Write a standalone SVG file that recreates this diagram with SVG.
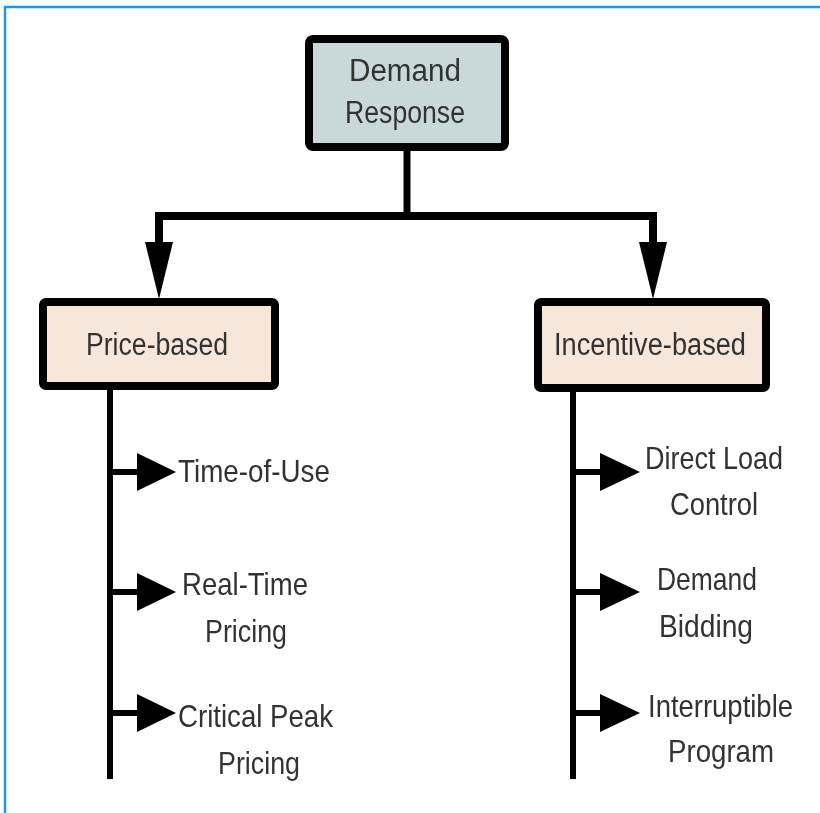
<svg xmlns="http://www.w3.org/2000/svg" width="820" height="813" viewBox="0 0 820 813">
  <style>
    .box { stroke: #000; stroke-width: 8; }
    .root { fill: #c9d9d9; }
    .cat { fill: #f6e7da; }
    .lbl { font-family: "Liberation Sans", Arial, sans-serif; font-size: 31px; fill: #333; text-anchor: middle; }
    .sub { font-family: "Liberation Sans", Arial, sans-serif; font-size: 32px; fill: #333; }
    .wire { stroke: #000; fill: none; stroke-linecap: square; }
    .head { fill: #000; }
  </style>
  <defs>
    <filter id="soft" x="-5%" y="-5%" width="110%" height="110%">
      <feGaussianBlur stdDeviation="0.5"/>
    </filter>
  </defs>

  <rect width="820" height="813" fill="#fff"/>
  <!-- frame -->
  <path d="M5,813 V7 H820" fill="none" stroke="#1a9be2" stroke-width="2.5"/>

  <g filter="url(#soft)">
    <!-- connectors -->
    <g id="connectors">
      <path class="wire" stroke-width="7" d="M407,150 V216"/>
      <path class="wire" stroke-width="8" d="M159,242 V216 H653 V242"/>
      <polygon class="head" points="145,242 173,242 159,299"/>
      <polygon class="head" points="639,242 667,242 653,299"/>
      <!-- price-based stem -->
      <path class="wire" stroke-width="6" d="M110,392 V776"/>
      <path class="wire" stroke-width="6" d="M110,472 H140 M110,592 H140 M110,713 H140"/>
      <polygon class="head" points="137,453 137,491 176,472"/>
      <polygon class="head" points="137,573 137,611 176,592"/>
      <polygon class="head" points="137,694 137,732 176,713"/>
      <!-- incentive-based stem -->
      <path class="wire" stroke-width="6" d="M573,392 V776"/>
      <path class="wire" stroke-width="6" d="M573,472 H603 M573,592 H603 M573,713 H603"/>
      <polygon class="head" points="600,453 600,491 640,472"/>
      <polygon class="head" points="600,573 600,611 640,592"/>
      <polygon class="head" points="600,694 600,732 640,713"/>
    </g>

    <g id="demand-response">
      <rect class="box root" x="309" y="39" width="196" height="108" rx="4"/>
      <text class="lbl" x="405" y="81" textLength="112" lengthAdjust="spacingAndGlyphs">Demand</text>
      <text class="lbl" x="405" y="123" textLength="120" lengthAdjust="spacingAndGlyphs">Response</text>
    </g>

    <g id="price-based">
      <rect class="box cat" x="43" y="302" width="232" height="84" rx="3"/>
      <text class="lbl" x="157" y="355" textLength="142" lengthAdjust="spacingAndGlyphs">Price-based</text>
    </g>

    <g id="incentive-based">
      <rect class="box cat" x="538" y="302" width="228" height="86" rx="3"/>
      <text class="lbl" x="650" y="355" textLength="192" lengthAdjust="spacingAndGlyphs">Incentive-based</text>
    </g>

    <g id="time-of-use">
      <text class="sub" x="178" y="482" textLength="152" lengthAdjust="spacingAndGlyphs">Time-of-Use</text>
    </g>
    <g id="real-time-pricing">
      <text class="sub" x="182" y="595" textLength="126" lengthAdjust="spacingAndGlyphs">Real-Time</text>
      <text class="sub" x="205" y="642" textLength="82" lengthAdjust="spacingAndGlyphs">Pricing</text>
    </g>
    <g id="critical-peak-pricing">
      <text class="sub" x="178" y="727" textLength="155" lengthAdjust="spacingAndGlyphs">Critical Peak</text>
      <text class="sub" x="218" y="774" textLength="82" lengthAdjust="spacingAndGlyphs">Pricing</text>
    </g>

    <g id="direct-load-control">
      <text class="sub" x="645" y="469" textLength="138" lengthAdjust="spacingAndGlyphs">Direct Load</text>
      <text class="sub" x="670" y="515" textLength="88" lengthAdjust="spacingAndGlyphs">Control</text>
    </g>
    <g id="demand-bidding">
      <text class="sub" x="657" y="590" textLength="100" lengthAdjust="spacingAndGlyphs">Demand</text>
      <text class="sub" x="659" y="637" textLength="94" lengthAdjust="spacingAndGlyphs">Bidding</text>
    </g>
    <g id="interruptible-program">
      <text class="sub" x="648" y="717" textLength="145" lengthAdjust="spacingAndGlyphs">Interruptible</text>
      <text class="sub" x="668" y="762" textLength="106" lengthAdjust="spacingAndGlyphs">Program</text>
    </g>
  </g>
</svg>
